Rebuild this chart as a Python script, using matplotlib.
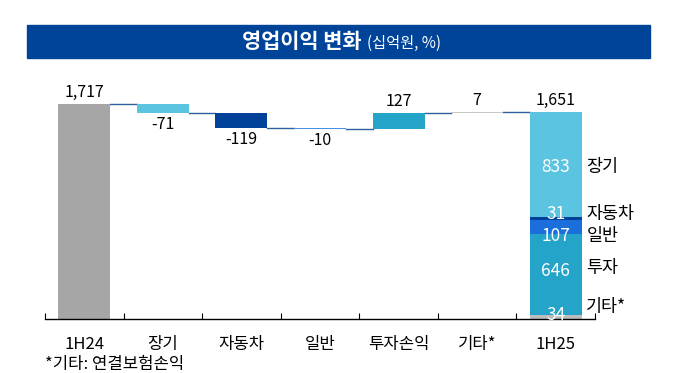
import matplotlib
matplotlib.use("Agg")
import matplotlib.pyplot as plt
from matplotlib.patches import Rectangle

plt.rcParams['font.family'] = ['Noto Sans CJK KR', 'DejaVu Sans']

categories = ['1H24', '장기', '자동차', '일반', '투자손익', '기타*', '1H25']
start_value = 1717
changes = [-71, -119, -10, 127, 7]
end_value = 1651
change_colors = ['#5bc4e1', '#00419a', '#4a90e2', '#23a4c8', '#c8c8c8']

stack_labels = ['기타*', '투자', '일반', '자동차', '장기']
stack_values = [34, 646, 107, 31, 833]
stack_colors = ['#bdbdbd', '#23a4c8', '#1a6fdc', '#00419a', '#5bc4e1']

W, H = 675, 373
fig = plt.figure(figsize=(W / 100, H / 100), dpi=100)

# title bar
fig.patches.append(Rectangle((27 / W, 1 - 58 / H), (650 - 27) / W, 33 / H,
                             transform=fig.transFigure, color='#00449a', zorder=0))
fig.text(362 / W, 1 - 42 / H, '영업이익 변화', color='white', fontsize=15,
         fontweight='bold', ha='right', va='center')
fig.text(367 / W, 1 - 43 / H, '(십억원, %)', color='white', fontsize=11,
         ha='left', va='center')

ax_left, ax_right = 45, 595
y0_px = 319
scale = 215 / 1717.0
ymax = 1900
ax_h = ymax * scale
ax = fig.add_axes([ax_left / W, 1 - y0_px / H, (ax_right - ax_left) / W, ax_h / H])
ax.set_xlim(-0.5, 6.5)
ax.set_ylim(0, ymax)

fs_num = 11.5
bw = 0.66
# start bar
ax.bar(0, start_value, width=bw, color='#a6a6a6', zorder=2)
ax.text(0, start_value + 25, f'{start_value:,}', ha='center', va='bottom', fontsize=fs_num)

running = start_value
levels = [running]
for i, (c, col) in enumerate(zip(changes, change_colors), start=1):
    bottom = running + min(c, 0)
    ax.bar(i, abs(c), bottom=bottom, width=bw, color=col, zorder=2)
    if c < 0:
        ax.text(i, bottom - 25, f'{c:,}', ha='center', va='top', fontsize=fs_num)
    else:
        ax.text(i, running + c + 25, f'{c:,}', ha='center', va='bottom', fontsize=fs_num)
    running += c
    levels.append(running)

# connectors
for i, lv in enumerate(levels):
    ax.plot([i + bw / 2, i + 1 - bw / 2], [lv, lv], color='#2f5f9f', lw=1.0, zorder=1)

# end stacked bar
bottom = 0
for lab, v, col in zip(stack_labels, stack_values, stack_colors):
    ax.bar(6, v, bottom=bottom, width=bw, color=col, zorder=2)
    bottom += v
ax.text(6, end_value + 25, f'{end_value:,}', ha='center', va='bottom', fontsize=fs_num)

# inner values and side labels
inner_y = [32, 383, 663, 839, 1214]
side_y = [96, 407, 663, 839, 1214]
for v, iy, sy, lab in zip(stack_values, inner_y, side_y, stack_labels):
    ax.text(6, iy, f'{v}', ha='center', va='center', fontsize=12.5, color='white', zorder=3)
    ax.text(6 + bw / 2 + 0.06, sy, lab, ha='left', va='center', fontsize=12.5, clip_on=False)

for s in ['top', 'right', 'left']:
    ax.spines[s].set_visible(False)
ax.spines['bottom'].set_color('black')
ax.spines['bottom'].set_linewidth(1)
ax.set_yticks([])
ax.set_xticks(range(len(categories)))
ax.set_xticklabels(categories, fontsize=12)
ax.set_xticks([i - 0.5 for i in range(len(categories) + 1)], minor=True)
ax.tick_params(axis='x', which='major', length=0, pad=12)
ax.tick_params(axis='x', which='minor', direction='in', length=4, width=0.8)

fig.text(45 / W, 1 - 364 / H, '*기타: 연결보험손익', fontsize=12, ha='left', va='center')

fig.savefig('out.png', dpi=100)
